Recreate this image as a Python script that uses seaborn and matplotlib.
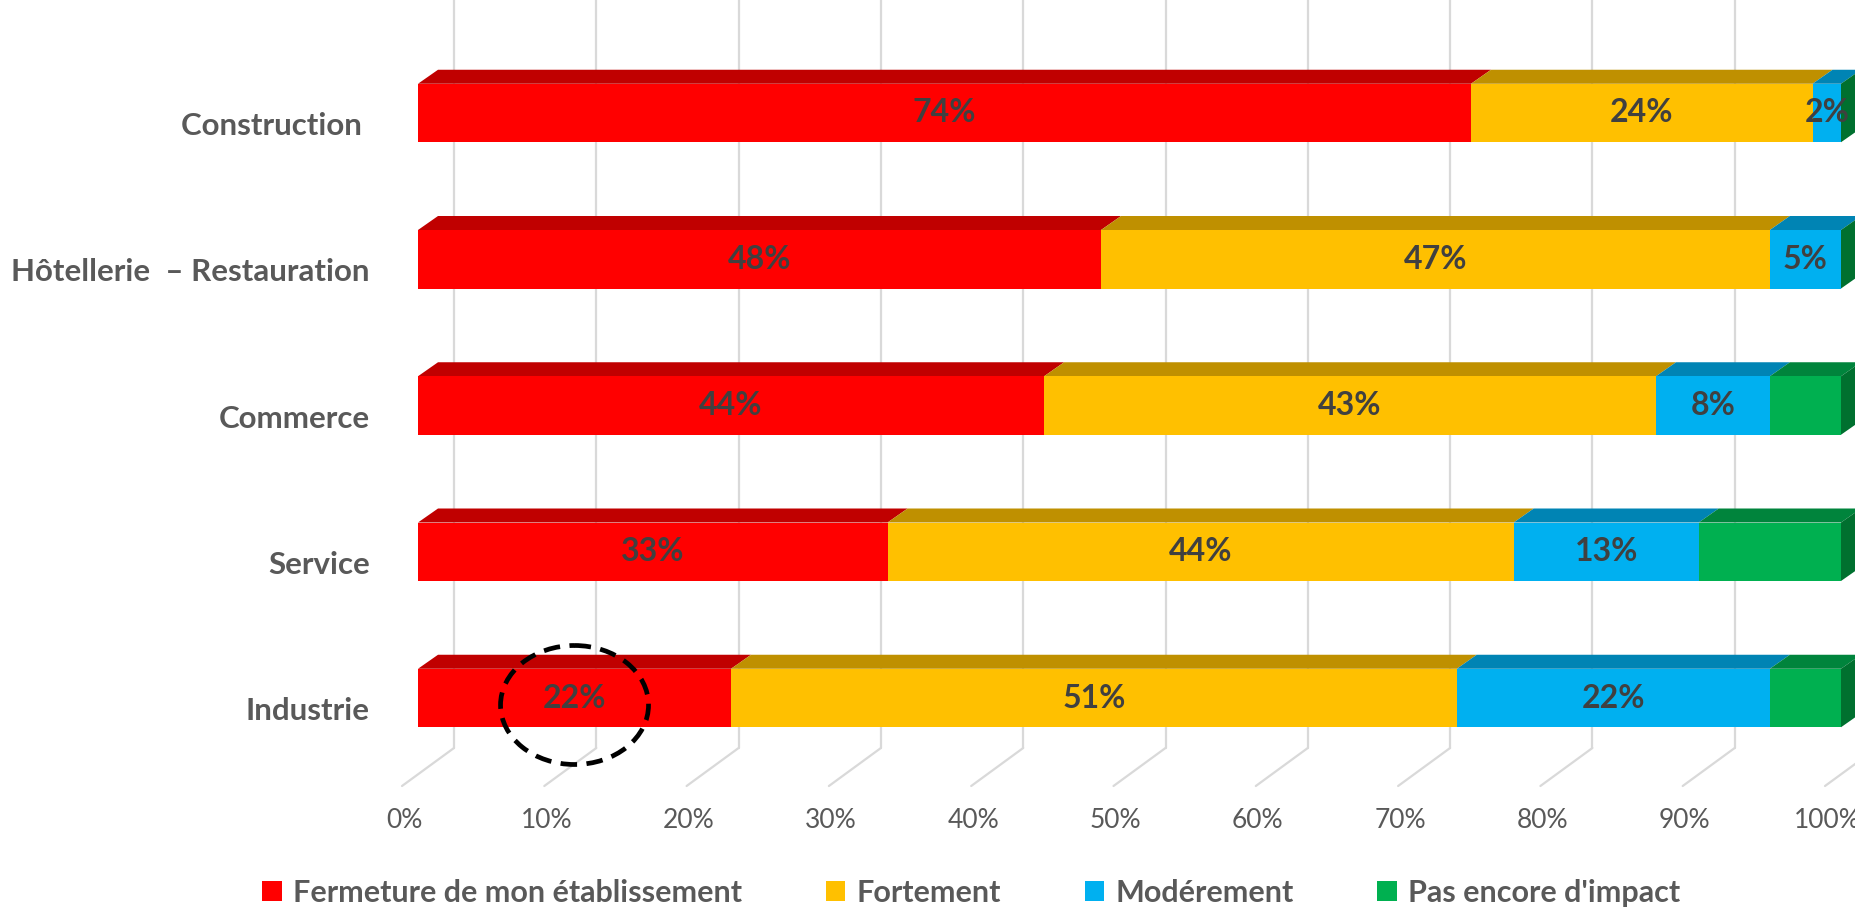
import numpy as np
import pandas as pd
import seaborn as sns
import matplotlib.pyplot as plt
from matplotlib import transforms
from matplotlib.patches import Polygon, Ellipse, Patch

# —— DATA —— #
sectors    = ['Construction ', 'Hôtellerie  – Restauration', 'Commerce', 'Service', 'Industrie']
fermeture  = [74, 48, 44, 33, 22]
fortement  = [24, 47, 43, 44, 51]
moderement = [2, 5, 8, 13, 22]
pas_encore = [0, 0, 5, 10, 5]
series_names = ['Fermeture de mon établissement', 'Fortement', 'Modérement', "Pas encore d'impact"]
x_ticks = list(range(0, 101, 10))

# —— STYLE —— #
FRONT = ['#FF0000', '#FFC000', '#00B0F0', '#00B050']
TOP   = ['#C00000', '#BF9000', '#0084B4', '#00843C']
SIDE  = '#00702F'
GRID  = '#D9D9D9'
TEXT  = '#595959'
LABEL = '#404040'
BAR_W = 0.4

sns.set_theme(style='white')
plt.rcParams['font.family'] = ['Lato', 'DejaVu Sans']

df = pd.DataFrame({'sector': sectors,
                   series_names[0]: fermeture,
                   series_names[1]: fortement,
                   series_names[2]: moderement,
                   series_names[3]: pas_encore})
cum = df[series_names].cumsum(axis=1)

W, H = 1856, 909
fig = plt.figure(figsize=(W / 100, H / 100), dpi=100)
ax = fig.add_axes([418 / W, (H - 748) / H, 1423 / W, 748 / H])

# stacked bars: draw cumulative totals from the longest down
for k in reversed(range(len(series_names))):
    sns.barplot(x=cum[series_names[k]], y=df['sector'], orient='h',
                color=FRONT[k], saturation=1, width=BAR_W, linewidth=0,
                zorder=3, ax=ax)

ax.set_xlim(0, 100)
ax.set_ylim(4 + 50 / 146.25, -113 / 146.25)
ax.set_axis_off()

# pixel -> data conversion factors
kx = ax.bbox.width / 100
ky = ax.bbox.height / (ax.get_ylim()[0] - ax.get_ylim()[1])
axh = ax.bbox.height
ddx, ddy = 20 / kx, -14 / ky   # bar depth

blend = transforms.blended_transform_factory(ax.transData, ax.transAxes)

# back-wall gridlines and floor lines
for t in x_ticks:
    xb = t + 36 / kx
    ax.plot([xb, xb], [0, 1.2], transform=blend, color=GRID, lw=1.6,
            zorder=0, clip_on=False)
    ax.plot([xb, t - 16 / kx], [0, -38 / axh], transform=blend, color=GRID,
            lw=1.6, zorder=0, clip_on=False)
    ax.text(t - 14 / kx, -72 / axh, f'{t}%', transform=blend, ha='center',
            va='center', fontsize=19, color=TEXT)

# 3D faces and data labels
for i, row in df.iterrows():
    vals = row[series_names].values.astype(float)
    y0, y1 = i - BAR_W / 2, i + BAR_W / 2
    left = 0.0
    for k, v in enumerate(vals):
        if v > 0:
            ax.add_patch(Polygon([(left, y0), (left + v, y0),
                                  (left + v + ddx, y0 + ddy), (left + ddx, y0 + ddy)],
                                 closed=True, facecolor=TOP[k], edgecolor='none',
                                 zorder=2, clip_on=False))
            if k < 3:
                ax.text(left + v / 2, i, f'{int(v)}%', ha='center', va='center',
                        fontsize=23, fontweight='bold', color=LABEL, zorder=5)
        left += v
    ax.add_patch(Polygon([(left, y0), (left, y1), (left + ddx, y1 + ddy),
                          (left + ddx, y0 + ddy)],
                         closed=True, facecolor=SIDE, edgecolor='none',
                         zorder=2, clip_on=False))
    ax.text(-48 / kx, i + 13 / ky, row['sector'], ha='right', va='center',
            fontsize=22.5, fontweight='bold', color=TEXT)

# dashed circle around Industrie's first value
ax.add_patch(Ellipse((fermeture[4] / 2, 4 + 7 / ky), 148 / kx, 119 / ky,
                     fill=False, edgecolor='black', lw=3.4,
                     linestyle=(0, (3.5, 2)), zorder=6, clip_on=False))

handles = [Patch(facecolor=c, edgecolor='none') for c in FRONT]
fig.legend(handles, series_names, loc='center', bbox_to_anchor=(971 / W, (H - 893) / H),
           ncol=4, frameon=False, handlelength=0.65, handleheight=0.65,
           handletextpad=0.35, columnspacing=2.75, labelcolor=TEXT,
           prop={'weight': 'bold', 'size': 22})

fig.savefig('out.png', dpi=100)
